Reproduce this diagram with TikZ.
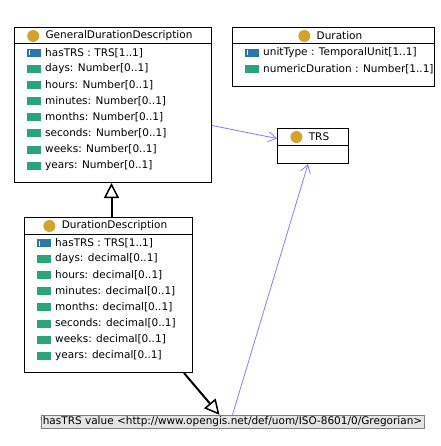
\documentclass[tikz,border=0pt]{standalone}
\usepackage{fontspec}
\setmainfont{DejaVu Sans}
\usepackage{tikz}
\usetikzlibrary{positioning, calc, arrows.meta}

\definecolor{umlgold}{HTML}{D4A42A}
\definecolor{umlblue}{HTML}{2E75A7}
\definecolor{umlgreen}{HTML}{2AA57A}
\definecolor{assocblue}{HTML}{8080FF}
\definecolor{notegray}{HTML}{E4E4E4}

\newcommand{\umlfont}{\fontsize{10.5pt}{12pt}\selectfont}

\tikzset{
  classbox/.style={draw, line width=1pt, anchor=north west, inner sep=0pt},
  classdot/.style={circle, fill=umlgold, inner sep=0pt, minimum size=12pt},
  classname/.style={inner sep=0pt, font=\umlfont},
  attrtext/.style={anchor=west, inner sep=0pt, font=\umlfont},
  attrval/.style={rectangle, fill=umlgreen, inner sep=0pt,
    minimum width=14pt, minimum height=8pt},
  attrref/.style={attrval, fill=umlblue, path picture={
    \fill[white] ([xshift=1.5pt, yshift=1.5pt]path picture bounding box.south west)
      rectangle ++(1pt, 5pt);}},
  assoc/.style={assocblue, line width=0.8pt,
    -{Straight Barb[length=8pt, width=10pt]}},
  gen/.style={line width=2pt,
    -{Triangle[open, length=15pt, width=15pt, line width=1.5pt]}}
}

\begin{document}
\begin{tikzpicture}[x=1pt, y=-1pt]
\useasboundingbox (0,0) rectangle (440,446);

% class boxes
\node[classbox, minimum width=197pt, minimum height=155pt] (gdd) at (14,27) {};
\node[classbox, minimum width=202pt, minimum height=59pt] (dur) at (232,27) {};
\node[classbox, minimum width=71pt, minimum height=35pt] (trs) at (277,128) {};
\node[classbox, minimum width=168pt, minimum height=155pt] (dd) at (24,217) {};

\draw[line width=1pt] ([yshift=-17pt]gdd.north west) -- ([yshift=-17pt]gdd.north east);
\draw[line width=1pt] ([yshift=-17pt]dur.north west) -- ([yshift=-17pt]dur.north east);
\draw[line width=1pt] ([yshift=-18pt]trs.north west) -- ([yshift=-18pt]trs.north east);
\draw[line width=1pt] ([yshift=-17pt]dd.north west) -- ([yshift=-17pt]dd.north east);

% class names
\node[classname] (gddname) at ([xshift=6pt, yshift=-9pt]gdd.north) {GeneralDurationDescription};
\node[classdot, left=6pt of gddname] (gdddot) {};
\node[classname] (durname) at ([xshift=6pt, yshift=-9pt]dur.north) {Duration};
\node[classdot, left=6pt of durname] (durdot) {};
\node[classname] (trsname) at ([xshift=6pt, yshift=-9pt]trs.north) {TRS};
\node[classdot, left=6pt of trsname] (trsdot) {};
\node[classname] (ddname) at ([xshift=6pt, yshift=-9pt]dd.north) {DurationDescription};
\node[classdot, left=6pt of ddname] (dddot) {};

% attributes
\node[attrref] (gddi0) at (34,53) {};
\node[attrtext] (gdda0) at (45,53) {hasTRS : TRS[1..1]};
\foreach \n [count=\i] in {days, hours, minutes, months, seconds, weeks, years} {
  \node[attrval] (gddi\i) at (34,53+16.1*\i) {};
  \node[attrtext] (gdda\i) at (45,53+16.1*\i) {\n : Number[0..1]};
}

\node[attrref] (ddi0) at (44,243) {};
\node[attrtext] (dda0) at (55,243) {hasTRS : TRS[1..1]};
\foreach \n [count=\i] in {days, hours, minutes, months, seconds, weeks, years} {
  \node[attrval] (ddi\i) at (44,243+16.1*\i) {};
  \node[attrtext] (dda\i) at (55,243+16.1*\i) {\n : decimal[0..1]};
}

\node[attrref] (duri0) at (252,53) {};
\node[attrtext] (dura0) at (263,53) {unitType : TemporalUnit[1..1]};
\node[attrval] (duri1) at (252,69) {};
\node[attrtext] (dura1) at (263,69) {numericDuration : Number[1..1]};

% value note
\node[draw=gray, fill=notegray, font=\umlfont, inner xsep=2pt, inner ysep=1pt,
  minimum height=13pt] (trsval) at (232.5,421.5)
  {hasTRS value <http://www.opengis.net/def/uom/ISO-8601/0/Gregorian>};

% connectors
\draw[gen] ([xshift=3pt]dd.north) -- ([xshift=3pt]dd.north |- gdd.south);
\draw[gen] ([xshift=-9pt]dd.south east) -- ([xshift=-13pt]trsval.north);
\draw[assoc] ([yshift=-20.5pt]gdd.east) -- ([yshift=7.5pt]trs.west);
\draw[assoc] (trsval.north) -- ([xshift=-5pt]trs.south);
\end{tikzpicture}
\end{document}
